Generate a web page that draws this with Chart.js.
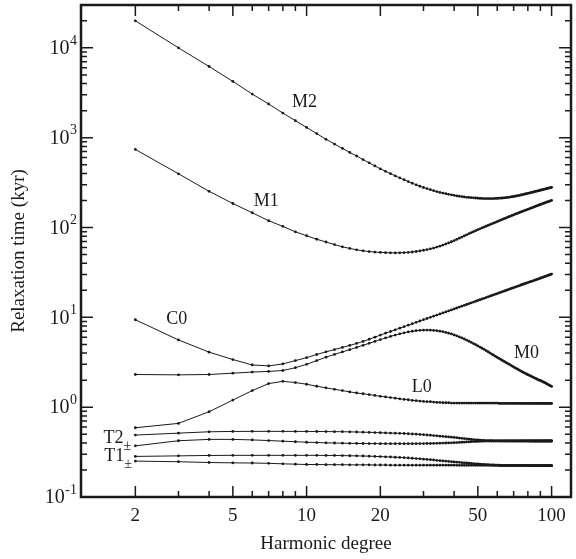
<!DOCTYPE html>
<html>
<head>
<meta charset="utf-8">
<script src="https://cdn.jsdelivr.net/npm/chart.js@4/dist/chart.umd.min.js"></script>
<style>
  body { margin: 0; background: #fff; }
  canvas { display: block; }
</style>
</head>
<body>
<canvas id="chart" width="576" height="559"></canvas>
<script>
const degrees = [
  2, 3, 4, 5, 6, 7, 8, 9, 10, 11,
  12, 13, 14, 15, 16, 17, 18, 19, 20, 21,
  22, 23, 24, 25, 26, 27, 28, 29, 30, 31,
  32, 33, 34, 35, 36, 37, 38, 39, 40, 41,
  42, 43, 44, 45, 46, 47, 48, 49, 50, 51,
  52, 53, 54, 55, 56, 57, 58, 59, 60, 61,
  62, 63, 64, 65, 66, 67, 68, 69, 70, 71,
  72, 73, 74, 75, 76, 77, 78, 79, 80, 81,
  82, 83, 84, 85, 86, 87, 88, 89, 90, 91,
  92, 93, 94, 95, 96, 97, 98, 99, 100
];

// relaxation times (kyr), one value per harmonic degree
const m2 = [
  20000, 10000, 6200, 4230, 3060, 2370, 1880, 1545, 1300, 1110,
  960, 850, 760, 685, 625, 570, 525, 485, 450, 422,
  398, 376, 357, 340, 325, 311, 299, 288, 279, 271,
  264, 257, 251, 246, 242, 238, 234, 231, 228, 225,
  223, 221, 219, 217, 216, 215, 214, 213, 212, 211,
  211, 210, 210, 210, 210, 210, 210, 211, 211, 212,
  212, 213, 214, 215, 216, 217, 219, 220, 222, 223,
  225, 227, 228, 230, 232, 234, 236, 238, 240, 242,
  244, 246, 248, 250, 252, 254, 256, 258, 260, 262,
  264, 266, 268, 270, 272, 274, 276, 278, 280
];
const m1 = [
  740, 396, 253, 185, 146, 119, 103, 89.5, 81, 74,
  69, 64.5, 61, 58.5, 56.5, 55, 54, 53.3, 52.8, 52.5,
  52.3, 52.2, 52.3, 52.5, 52.9, 53.4, 54.1, 54.9, 55.8, 56.8,
  57.9, 59.1, 60.5, 62, 63.7, 65.5, 67.4, 69.4, 71.5, 73.6,
  76, 78.3, 80.6, 83, 85.3, 87.6, 89.9, 92.2, 94.5, 96.7,
  98.9, 101.1, 103.3, 105.5, 107.7, 109.9, 112.1, 114.3, 116.5, 118.7,
  120.9, 123.1, 125.3, 127.5, 129.7, 131.9, 134.1, 136.3, 138.5, 140.6,
  142.7, 144.8, 146.9, 149, 151.1, 153.2, 155.3, 157.4, 159.5, 161.6,
  163.7, 165.8, 167.9, 170, 172.1, 174.2, 176.3, 178.4, 180.5, 182.6,
  184.5, 186.5, 188.5, 190.5, 192.5, 194.5, 196.5, 198.3, 200
];
const c0 = [
  9.4, 5.6, 4.1, 3.39, 2.95, 2.88, 3.03, 3.3, 3.56, 3.86,
  4.13, 4.38, 4.62, 4.87, 5.12, 5.4, 5.7, 6.02, 6.35, 6.66,
  6.96, 7.27, 7.58, 7.88, 8.19, 8.49, 8.8, 9.11, 9.41, 9.71,
  10.0, 10.3, 10.6, 10.9, 11.2, 11.5, 11.8, 12.1, 12.4, 12.7,
  13.0, 13.3, 13.6, 13.9, 14.2, 14.5, 14.8, 15.1, 15.4, 15.7,
  16.0, 16.3, 16.6, 16.9, 17.2, 17.5, 17.8, 18.1, 18.4, 18.7,
  19.0, 19.3, 19.6, 19.9, 20.2, 20.5, 20.8, 21.1, 21.4, 21.7,
  22.0, 22.3, 22.6, 22.9, 23.2, 23.5, 23.8, 24.1, 24.4, 24.7,
  25.0, 25.2, 25.5, 25.8, 26.1, 26.4, 26.7, 27.0, 27.3, 27.6,
  27.9, 28.2, 28.5, 28.8, 29.1, 29.4, 29.7, 30.0, 30.3
];
const m0 = [
  2.31, 2.29, 2.31, 2.39, 2.46, 2.5, 2.56, 2.75, 3.0, 3.3,
  3.6, 3.87, 4.12, 4.37, 4.62, 4.88, 5.14, 5.4, 5.65, 5.9,
  6.13, 6.35, 6.55, 6.73, 6.88, 7.0, 7.1, 7.17, 7.2, 7.22,
  7.2, 7.16, 7.1, 7.02, 6.92, 6.8, 6.67, 6.53, 6.38, 6.22,
  6.06, 5.9, 5.74, 5.58, 5.42, 5.26, 5.11, 4.96, 4.81, 4.67,
  4.53, 4.4, 4.27, 4.14, 4.02, 3.9, 3.79, 3.68, 3.58, 3.49,
  3.4, 3.31, 3.23, 3.15, 3.08, 3.01, 2.94, 2.87, 2.8, 2.74,
  2.68, 2.63, 2.57, 2.52, 2.47, 2.43, 2.38, 2.34, 2.3, 2.26,
  2.23, 2.19, 2.16, 2.12, 2.09, 2.06, 2.03, 2.0, 1.98, 1.95,
  1.92, 1.89, 1.87, 1.84, 1.81, 1.78, 1.75, 1.73, 1.7
];
const l0 = [
  0.59, 0.66, 0.89, 1.2, 1.53, 1.83, 1.94, 1.88, 1.8, 1.71,
  1.64, 1.58, 1.53, 1.48, 1.44, 1.41, 1.38, 1.35, 1.32, 1.3,
  1.28, 1.26, 1.24, 1.22, 1.21, 1.19, 1.18, 1.17, 1.16, 1.15,
  1.15, 1.14, 1.13, 1.13, 1.12, 1.12, 1.12, 1.11, 1.11, 1.11,
  1.11, 1.11, 1.11, 1.11, 1.11, 1.11, 1.11, 1.11, 1.11, 1.11,
  1.11, 1.11, 1.11, 1.11, 1.11, 1.11, 1.11, 1.11, 1.11, 1.1,
  1.1, 1.1, 1.1, 1.1, 1.1, 1.1, 1.1, 1.1, 1.1, 1.1,
  1.1, 1.1, 1.1, 1.1, 1.1, 1.1, 1.1, 1.1, 1.1, 1.1,
  1.1, 1.1, 1.1, 1.1, 1.1, 1.1, 1.1, 1.1, 1.1, 1.1,
  1.1, 1.1, 1.1, 1.1, 1.1, 1.1, 1.1, 1.1, 1.1
];
const t2plus = [
  0.489, 0.514, 0.532, 0.537, 0.538, 0.538, 0.538, 0.537, 0.537, 0.536,
  0.535, 0.534, 0.533, 0.531, 0.529, 0.527, 0.525, 0.522, 0.519, 0.517,
  0.515, 0.513, 0.511, 0.509, 0.506, 0.503, 0.5, 0.497, 0.494, 0.49,
  0.487, 0.483, 0.48, 0.476, 0.473, 0.469, 0.466, 0.463, 0.46, 0.457,
  0.453, 0.45, 0.447, 0.444, 0.441, 0.438, 0.436, 0.433, 0.431, 0.429,
  0.427, 0.426, 0.425, 0.424, 0.423, 0.423, 0.422, 0.422, 0.422, 0.422,
  0.421, 0.421, 0.421, 0.421, 0.421, 0.421, 0.421, 0.421, 0.421, 0.421,
  0.421, 0.421, 0.421, 0.421, 0.421, 0.421, 0.421, 0.421, 0.421, 0.42,
  0.42, 0.42, 0.42, 0.42, 0.42, 0.42, 0.42, 0.42, 0.42, 0.42,
  0.42, 0.42, 0.42, 0.42, 0.42, 0.42, 0.42, 0.42, 0.42
];
const t2minus = [
  0.371, 0.423, 0.438, 0.438, 0.432, 0.425, 0.418, 0.412, 0.407, 0.404,
  0.401, 0.399, 0.397, 0.396, 0.395, 0.394, 0.393, 0.393, 0.392, 0.392,
  0.392, 0.392, 0.392, 0.392, 0.392, 0.392, 0.392, 0.393, 0.393, 0.394,
  0.394, 0.395, 0.396, 0.397, 0.398, 0.399, 0.4, 0.401, 0.402, 0.404,
  0.405, 0.407, 0.408, 0.41, 0.411, 0.413, 0.414, 0.415, 0.416, 0.417,
  0.418, 0.418, 0.419, 0.419, 0.42, 0.42, 0.42, 0.42, 0.42, 0.42,
  0.42, 0.42, 0.42, 0.42, 0.42, 0.42, 0.42, 0.42, 0.42, 0.42,
  0.42, 0.42, 0.42, 0.42, 0.42, 0.42, 0.42, 0.42, 0.42, 0.42,
  0.42, 0.42, 0.42, 0.42, 0.42, 0.42, 0.42, 0.42, 0.42, 0.42,
  0.42, 0.42, 0.42, 0.42, 0.42, 0.42, 0.42, 0.42, 0.42
];
const t1plus = [
  0.283, 0.287, 0.29, 0.291, 0.291, 0.291, 0.291, 0.291, 0.291, 0.291,
  0.29, 0.29, 0.289, 0.288, 0.287, 0.286, 0.285, 0.283, 0.282, 0.28,
  0.279, 0.277, 0.276, 0.274, 0.272, 0.27, 0.268, 0.266, 0.264, 0.262,
  0.26, 0.258, 0.256, 0.254, 0.252, 0.251, 0.249, 0.247, 0.246, 0.244,
  0.243, 0.241, 0.24, 0.239, 0.238, 0.236, 0.235, 0.234, 0.233, 0.232,
  0.231, 0.23, 0.229, 0.229, 0.228, 0.227, 0.227, 0.226, 0.226, 0.226,
  0.225, 0.225, 0.225, 0.225, 0.225, 0.225, 0.225, 0.225, 0.225, 0.225,
  0.225, 0.225, 0.225, 0.225, 0.225, 0.225, 0.225, 0.225, 0.225, 0.224,
  0.224, 0.224, 0.224, 0.224, 0.224, 0.224, 0.224, 0.224, 0.224, 0.223,
  0.223, 0.223, 0.223, 0.223, 0.223, 0.223, 0.223, 0.223, 0.223
];
const t1minus = [
  0.251, 0.247, 0.242, 0.24, 0.239, 0.237, 0.234, 0.232, 0.23, 0.23,
  0.229, 0.229, 0.229, 0.228, 0.228, 0.228, 0.228, 0.227, 0.227, 0.227,
  0.226, 0.226, 0.226, 0.226, 0.226, 0.226, 0.226, 0.226, 0.226, 0.226,
  0.226, 0.226, 0.226, 0.226, 0.226, 0.226, 0.226, 0.226, 0.226, 0.225,
  0.225, 0.225, 0.225, 0.225, 0.225, 0.225, 0.225, 0.225, 0.225, 0.225,
  0.225, 0.225, 0.225, 0.225, 0.225, 0.225, 0.225, 0.225, 0.225, 0.224,
  0.224, 0.224, 0.224, 0.224, 0.224, 0.224, 0.224, 0.224, 0.224, 0.224,
  0.224, 0.224, 0.224, 0.224, 0.224, 0.224, 0.224, 0.224, 0.224, 0.223,
  0.223, 0.223, 0.223, 0.223, 0.223, 0.223, 0.223, 0.223, 0.223, 0.223,
  0.223, 0.223, 0.223, 0.223, 0.223, 0.223, 0.223, 0.223, 0.223
];

const seriesNames = ["M2", "M1", "C0", "M0", "L0", "T2+", "T2-", "T1+", "T1-"];
const seriesValues = [m2, m1, c0, m0, l0, t2plus, t2minus, t1plus, t1minus];

// axis ticks
const xLabels = [2, 5, 10, 20, 50, 100];
const xMinor = [3, 4, 6, 7, 8, 9, 30, 40, 60, 70, 80, 90];
const yLabels = [0.1, 1, 10, 100, 1000, 10000];
const yExponents = ["-1", "0", "1", "2", "3", "4"];
const yMinor = [
  0.2, 0.3, 0.4, 0.5, 0.6, 0.7, 0.8, 0.9,
  2, 3, 4, 5, 6, 7, 8, 9,
  20, 30, 40, 50, 60, 70, 80, 90,
  200, 300, 400, 500, 600, 700, 800, 900,
  2000, 3000, 4000, 5000, 6000, 7000, 8000, 9000,
  20000, 30000
];

// curve labels, anchored in data coordinates
const curveLabelText = ["M2", "M1", "C0", "M0", "L0", "T2", "T1"];
const curveLabelSub = ["", "", "", "", "", "\u00B1", "\u00B1"];
const curveLabelDeg = [9.8, 6.85, 2.95, 78.9, 29.5, 1.63, 1.64];
const curveLabelVal = [2450, 194, 9.5, 3.98, 1.67, 0.453, 0.282];

const ink = "#1a1a1a";
const serif = "'Liberation Serif', 'Times New Roman', serif";

const frameTicks = {
    id: "frameTicks",
    afterDraw(chart) {
        const { ctx, chartArea: a, scales: { x, y } } = chart;
        ctx.save();
        ctx.strokeStyle = ink;
        ctx.lineWidth = 1.5;
        ctx.beginPath();
        xLabels.concat(xMinor).forEach(v => {
            const px = x.getPixelForValue(v);
            const len = xLabels.includes(v) ? 11 : 6;
            ctx.moveTo(px, a.bottom); ctx.lineTo(px, a.bottom - len);
            ctx.moveTo(px, a.top); ctx.lineTo(px, a.top + len);
        });
        yLabels.concat(yMinor).forEach(v => {
            const py = y.getPixelForValue(v);
            const len = yLabels.includes(v) ? 12 : 6;
            ctx.moveTo(a.left, py); ctx.lineTo(a.left + len, py);
            ctx.moveTo(a.right, py); ctx.lineTo(a.right - len, py);
        });
        ctx.stroke();

        ctx.lineWidth = 2.5;
        ctx.strokeRect(a.left, a.top, a.right - a.left, a.bottom - a.top);

        ctx.fillStyle = ink;
        ctx.textBaseline = "middle";

        // decade labels with raised exponent
        ctx.textAlign = "right";
        yLabels.forEach((v, i) => {
            const py = y.getPixelForValue(v);
            ctx.font = "14px " + serif;
            const ew = ctx.measureText(yExponents[i]).width;
            ctx.fillText(yExponents[i], a.left - 4, py - 7);
            ctx.font = "20px " + serif;
            ctx.fillText("10", a.left - 4 - ew - 0.5, py + 1);
        });

        ctx.textAlign = "left";
        curveLabelText.forEach((t, i) => {
            const px = x.getPixelForValue(curveLabelDeg[i]);
            const py = y.getPixelForValue(curveLabelVal[i]);
            ctx.font = "18px " + serif;
            const w = ctx.measureText(t).width;
            ctx.fillText(t, px - w / 2, py);
            if (curveLabelSub[i]) {
                ctx.font = "14px " + serif;
                ctx.fillText(curveLabelSub[i], px + w / 2, py + 8);
            }
        });
        ctx.restore();
    }
};

const datasets = seriesValues.map((vals, k) => ({
    label: seriesNames[k],
    data: degrees.map((d, i) => ({ x: d, y: vals[i] })),
    showLine: true,
    borderColor: ink,
    backgroundColor: ink,
    borderWidth: 1,
    pointRadius: 1.4,
    pointHoverRadius: 1.4,
    pointBorderWidth: 0
}));

new Chart(document.getElementById("chart"), {
    type: "scatter",
    data: { datasets },
    options: {
        responsive: false,
        animation: false,
        layout: { padding: { top: 5, right: 5, left: 0, bottom: 0 } },
        plugins: { legend: { display: false }, tooltip: { enabled: false } },
        scales: {
            x: {
                type: "logarithmic",
                min: 1.2,
                max: 120,
                grid: { display: false, drawTicks: false },
                border: { display: false },
                afterBuildTicks: s => { s.ticks = xLabels.map(v => ({ value: v })); },
                afterFit: s => { s.height = 62; s.paddingLeft = 0; s.paddingRight = 0; },
                ticks: {
                    color: ink,
                    font: { family: serif, size: 19 },
                    padding: 8,
                    maxRotation: 0,
                    autoSkip: false,
                    callback: (v, i) => String(xLabels[i])
                },
                title: {
                    display: true,
                    text: "Harmonic degree",
                    color: ink,
                    font: { family: serif, size: 19 },
                    padding: { top: 0, bottom: 4 }
                }
            },
            y: {
                type: "logarithmic",
                min: 0.1,
                max: 30000,
                grid: { display: false, drawTicks: false },
                border: { display: false },
                afterBuildTicks: s => { s.ticks = yLabels.map(v => ({ value: v })); },
                afterFit: s => { s.width = 81; s.paddingTop = 0; s.paddingBottom = 0; },
                ticks: { display: false },
                title: {
                    display: true,
                    text: "Relaxation time (kyr)",
                    color: ink,
                    font: { family: serif, size: 19 },
                    padding: { top: 8, bottom: 0 }
                }
            }
        }
    },
    plugins: [frameTicks]
});
</script>
</body>
</html>
